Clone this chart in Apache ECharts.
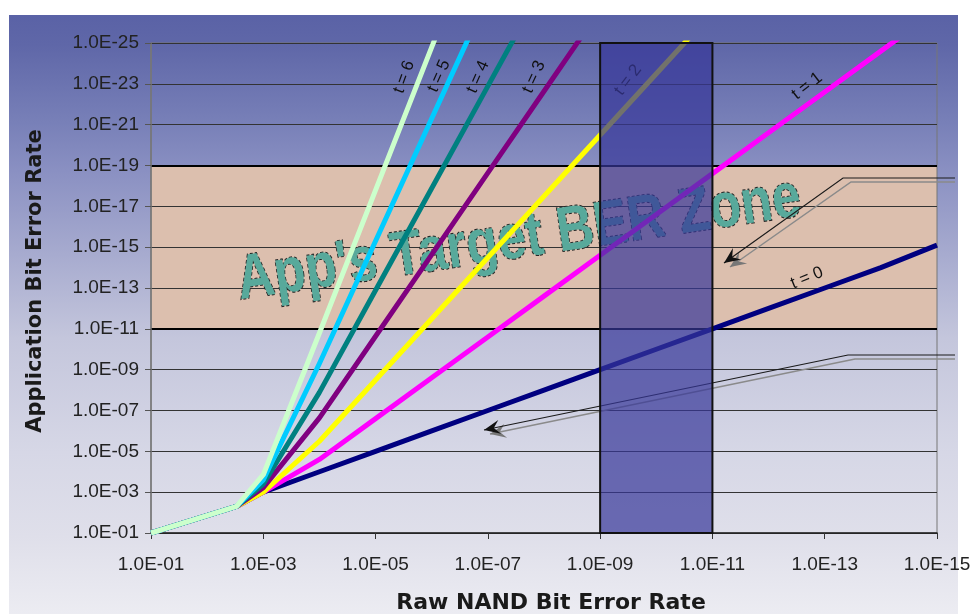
<!DOCTYPE html>
<html>
<head>
<meta charset="utf-8">
<title>Application BER vs Raw NAND BER</title>
<script src="https://cdn.jsdelivr.net/npm/echarts@6/dist/echarts.min.js"></script>
<style>
  html, body { margin: 0; padding: 0; background: #fff; }
  #main { width: 980px; height: 614px; }
</style>
</head>
<body>
<div id="main"></div>
<script>
// raw NAND bit error rate sample points
var rawBer = [1e-1, 3e-3, 1e-3, 1e-4, 1e-5, 1e-6, 1e-7, 1e-8, 1e-9, 1e-10, 1e-11, 1e-12, 1e-13, 1e-14, 1e-15];
// application bit error rate, one array per ECC strength t (null = off the chart)
var t0 = [1e-1, 5e-3, 1e-3, 1e-4, 1e-5, 1e-6, 1e-7, 1e-8, 1e-9, 1e-10, 1e-11, 1e-12, 1e-13, 1e-14, 8e-16];
var t1 = [1e-1, 5e-3, 1e-3, 2.5e-5, 2.5e-7, 2.5e-9, 2.5e-11, 2.5e-13, 2.5e-15, 2.5e-17, 2.5e-19, 2.5e-21, 2.5e-23, 2.5e-25, 2.5e-27];
var t2 = [1e-1, 5e-3, 1e-3, 3.2e-6, 3.2e-9, 3.2e-12, 3.2e-15, 3.2e-18, 3.2e-21, 3.2e-24, 3.2e-27, null, null, null, null];
var t3 = [1e-1, 5e-3, 6e-4, 2.3e-7, 2.3e-11, 2.3e-15, 2.3e-19, 2.3e-23, 2.3e-27, null, null, null, null, null, null];
var t4 = [1e-1, 5e-3, 4e-4, 1.3e-8, 1.3e-13, 1.3e-18, 1.3e-23, 1.3e-28, null, null, null, null, null, null, null];
var t5 = [1e-1, 5e-3, 2.5e-4, 5e-10, 5e-16, 5e-22, 5e-28, null, null, null, null, null, null, null, null];
var t6 = [1e-1, 5e-3, 1.4e-4, 1.6e-11, 1.6e-18, 1.6e-25, 1.6e-32, null, null, null, null, null, null, null, null];
var seriesNames = ['t = 0', 't = 1', 't = 2', 't = 3', 't = 4', 't = 5', 't = 6'];
var seriesColors = ['#000080', '#ff00ff', '#ffff00', '#800080', '#008080', '#00ccff', '#ccffcc'];
// target zone (app BER) and highlighted raw BER range
var bandApp = [1e-19, 1e-11];
var zoneRaw = [1e-9, 1e-11];

// axes are drawn in decades: 1E-n -> n
function ex(v) { return -Math.log10(v); }
function fmt(v) {
  var n = Math.round(v);
  return '1.0E-' + (n < 10 ? '0' : '') + n;
}
function toPts(arr) {
  var out = [];
  for (var i = 0; i < rawBer.length; i++) {
    if (arr[i] != null) out.push([ex(rawBer[i]), ex(arr[i])]);
  }
  return out;
}
// small filled arrow head, tip at "to"
function arrowHead(from, to, color) {
  var dx = to[0] - from[0], dy = to[1] - from[1];
  var len = Math.sqrt(dx * dx + dy * dy);
  var ux = dx / len, uy = dy / len, px = -uy, py = ux;
  var bx = to[0] - 16 * ux, by = to[1] - 16 * uy;
  var nx = to[0] - 10 * ux, ny = to[1] - 10 * uy;
  return {
    type: 'polygon', z: 4, silent: true,
    shape: { points: [to, [bx + 7 * px, by + 7 * py], [nx, ny], [bx - 7 * px, by - 7 * py]] },
    style: { fill: color }
  };
}
function callout(pts, shadow) {
  return [
    { type: 'polyline', z: 4, silent: true, shape: { points: shadow }, style: { stroke: '#8a8a8a', lineWidth: 1.5, fill: null } },
    arrowHead(shadow[shadow.length - 2], shadow[shadow.length - 1], '#777'),
    { type: 'polyline', z: 4, silent: true, shape: { points: pts }, style: { stroke: '#1a1a1a', lineWidth: 1.2, fill: null } },
    arrowHead(pts[pts.length - 2], pts[pts.length - 1], '#111')
  ];
}
function tLabel(txt, x, y, deg) {
  return {
    type: 'text', z: 4, silent: true, x: x, y: y, rotation: deg * Math.PI / 180,
    style: { text: txt, font: '17px "Liberation Sans"', fill: '#111', align: 'center', verticalAlign: 'middle' }
  };
}

var chart = echarts.init(document.getElementById('main'));

var series = [];
// peach target band + its black borders
series.push({
  type: 'line', data: [], silent: true,
  markArea: {
    silent: true, z: 0,
    itemStyle: { color: '#dcbfae' },
    data: [[{ yAxis: ex(bandApp[0]) }, { yAxis: ex(bandApp[1]) }]]
  },
  markLine: {
    silent: true, z: 1, symbol: 'none', animation: false,
    label: { show: false },
    lineStyle: { color: '#000', width: 2, type: 'solid' },
    data: [{ yAxis: ex(bandApp[0]) }, { yAxis: ex(bandApp[1]) }]
  }
});
var allT = [t0, t1, t2, t3, t4, t5, t6];
for (var k = 0; k < allT.length; k++) {
  series.push({
    name: seriesNames[k],
    type: 'line',
    z: 3,
    data: toPts(allT[k]),
    showSymbol: false,
    symbol: 'none',
    lineStyle: { width: 5, color: seriesColors[k], join: 'round' }
  });
}
// translucent blue raw BER window on top of everything
series.push({
  type: 'line', data: [], silent: true,
  markArea: {
    silent: true, z: 5,
    itemStyle: { color: 'rgba(54,54,152,0.7)', borderColor: '#111', borderWidth: 2 },
    data: [[{ xAxis: ex(zoneRaw[0]) }, { xAxis: ex(zoneRaw[1]) }]]
  }
});

var graphics = [
  {
    type: 'rect', z: -10, silent: true,
    shape: { x: 9, y: 15, width: 949, height: 599 },
    style: {
      fill: {
        type: 'linear', x: 0, y: 0, x2: 0, y2: 1,
        colorStops: [
          { offset: 0, color: '#5a62a6' },
          { offset: 0.05, color: '#5f67a8' },
          { offset: 0.18, color: '#7880b8' },
          { offset: 0.26, color: '#8a90c2' },
          { offset: 0.54, color: '#c4c6dc' },
          { offset: 0.73, color: '#d6d7e6' },
          { offset: 0.87, color: '#dfdfea' },
          { offset: 1, color: '#ececf2' }
        ]
      }
    }
  },
  {
    type: 'text', z: 2, silent: true, x: 519, y: 240, rotation: 8.5 * Math.PI / 180, scaleY: 1.22,
    style: {
      text: "App's Target BER Zone", font: 'bold 51.5px "Liberation Sans"',
      fill: '#58a99b', stroke: '#262626', lineWidth: 1.6, lineDash: [3, 2],
      align: 'center', verticalAlign: 'middle'
    }
  },
  tLabel('t = 6', 404, 77, 70),
  tLabel('t = 5', 439, 76, 66),
  tLabel('t = 4', 478, 77, 66),
  tLabel('t = 3', 534, 77, 65),
  tLabel('t = 2', 628, 80, 53),
  tLabel('t = 1', 807, 86, 38),
  tLabel('t = 0', 807, 278, 22)
];
graphics = graphics.concat(
  callout([[955, 178], [843, 178], [724, 263]], [[955, 182], [851, 182], [730, 267]]),
  callout([[955, 355], [848, 355], [484, 430]], [[955, 359], [855, 359], [490, 434]])
);

chart.setOption({
  animation: false,
  backgroundColor: '#ffffff',
  grid: {
    left: 151, right: 43, top: 43, bottom: 81, containLabel: false, outerBoundsMode: 'none',
    show: true, z: 1, borderColor: '#777', borderWidth: 1, backgroundColor: 'transparent'
  },
  xAxis: {
    type: 'value', min: 1, max: 15, interval: 2, z: 1,
    name: 'Raw NAND Bit Error Rate', nameLocation: 'middle', nameGap: 59,
    nameTextStyle: { fontFamily: 'DejaVu Sans', fontWeight: 'bold', fontSize: 22, color: '#1a1a1a', padding: [0, 0, 0, 14] },
    axisLine: { lineStyle: { color: '#222', width: 1.5 } },
    axisTick: { show: true, length: 6, lineStyle: { color: '#333' } },
    splitLine: { show: false },
    axisLabel: { margin: 22, fontSize: 19, fontFamily: 'Liberation Sans', color: '#222', formatter: fmt }
  },
  yAxis: {
    type: 'value', min: 1, max: 25, interval: 2, z: 1,
    name: 'Application Bit Error Rate', nameLocation: 'middle', nameGap: 105, nameRotate: 90,
    nameTextStyle: { fontFamily: 'DejaVu Sans', fontWeight: 'bold', fontSize: 21, color: '#1a1a1a', padding: [0, 0, 0, 14] },
    axisLine: { show: true, lineStyle: { color: '#777', width: 1.5 } },
    axisTick: { show: true, length: 6, lineStyle: { color: '#555' } },
    splitLine: { show: true, lineStyle: { color: '#333', width: 1 } },
    axisLabel: { margin: 12, fontSize: 19, fontFamily: 'Liberation Sans', color: '#222', formatter: fmt }
  },
  graphic: { elements: graphics },
  series: series
});
</script>
</body>
</html>
